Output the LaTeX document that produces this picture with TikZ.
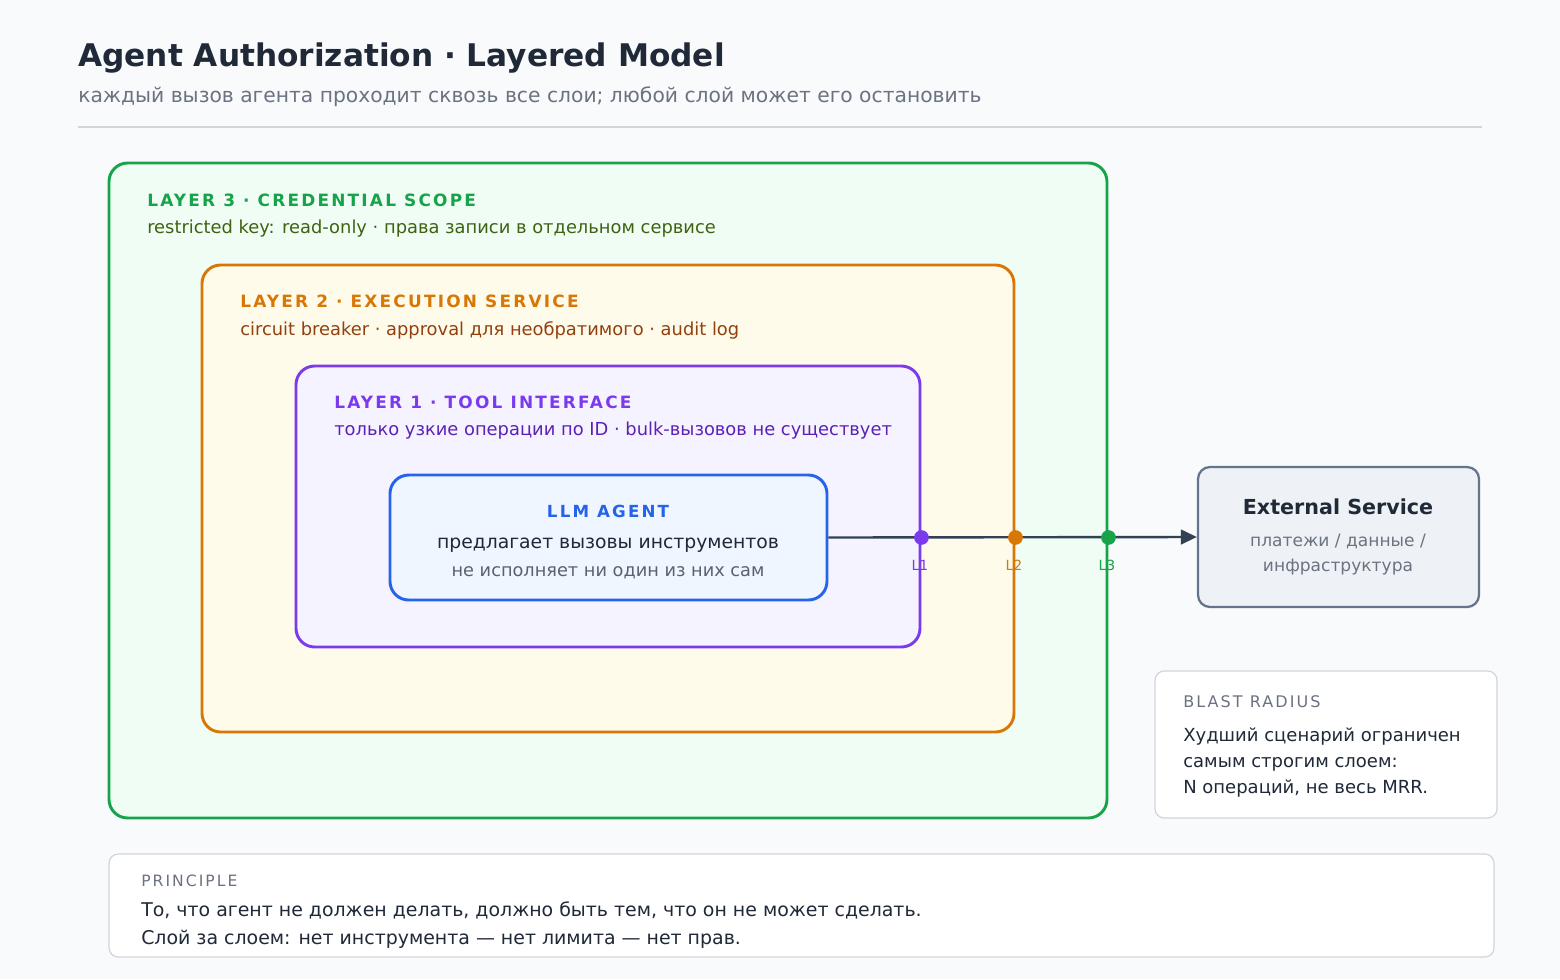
\documentclass[tikz,border=0pt]{standalone}
\usepackage{fontspec}
\setmainfont{DejaVu Sans}
\newfontfamily\capsfont[LetterSpace=13]{DejaVu Sans}
\usetikzlibrary{fit,arrows.meta}
\definecolor{bgpage}{HTML}{F8FAFC}
\definecolor{ink}{HTML}{1F2937}
\definecolor{muted}{HTML}{6B7280}
\definecolor{rule}{HTML}{D1D5DB}
\definecolor{greenL}{HTML}{16A34A}
\definecolor{greenF}{HTML}{F0FDF4}
\definecolor{greenT}{HTML}{3F6212}
\definecolor{orangeL}{HTML}{D97706}
\definecolor{orangeF}{HTML}{FFFBEB}
\definecolor{orangeT}{HTML}{92400E}
\definecolor{purpleL}{HTML}{7C3AED}
\definecolor{purpleF}{HTML}{F5F3FF}
\definecolor{purpleT}{HTML}{5B21B6}
\definecolor{blueL}{HTML}{2563EB}
\definecolor{blueF}{HTML}{EFF6FF}
\definecolor{slateL}{HTML}{64748B}
\definecolor{slateF}{HTML}{EEF2F7}
\definecolor{arrowc}{HTML}{334155}
\newcommand{\px}[1]{\fontsize{#1pt}{#1pt}\selectfont}
\begin{document}
\begin{tikzpicture}[x=0.75pt,y=-0.75pt,
  layer/.style={draw=#1L, fill=#1F, line width=2.2pt, rounded corners=14pt, inner sep=0pt},
  card/.style={draw=rule, fill=white, line width=0.9pt, rounded corners=7pt, inner sep=0pt},
  head/.style={anchor=west, text=#1L, font=\capsfont\bfseries\px{12.7}, inner sep=0pt},
  desc/.style={anchor=west, font=\px{13.4}, inner sep=0pt},
  dot/.style={circle, fill=#1L, minimum size=11pt, inner sep=0pt},
  tag/.style={text=#1L, font=\px{10.5}, inner sep=1pt}]
\useasboundingbox[fill=bgpage] (0,0) rectangle (1560,979);

% Title
\node[anchor=base west, text=ink, font=\bfseries\px{23.4}, inner sep=0pt] (title) at (78,66) {Agent Authorization · Layered Model};
\node[anchor=west, text=muted, font=\px{15.2}, inner sep=0pt] (subtitle) at (78,97) {каждый вызов агента проходит сквозь все слои; любой слой может его остановить};
\node[fit={(78,127) (1482,127)}, inner sep=0pt] (sep) {};
\draw[rule, line width=0.9pt] (sep.west) -- (sep.east);

% Layers
\node[layer=green, fit={(109,163) (1107,818)}] (l3) {};
\node[head=green] (l3head) at (147,200) {LAYER 3 · CREDENTIAL SCOPE};
\node[desc, text=greenT] (l3desc) at (147,229) {restricted key: read-only · права записи в отдельном сервисе};

\node[layer=orange, fit={(202,265) (1014,732)}] (l2) {};
\node[head=orange] (l2head) at (240,301) {LAYER 2 · EXECUTION SERVICE};
\node[desc, text=orangeT] (l2desc) at (240,330) {circuit breaker · approval для необратимого · audit log};

\node[layer=purple, fit={(296,366) (920,647)}] (l1) {};
\node[head=purple] (l1head) at (334,402) {LAYER 1 · TOOL INTERFACE};
\node[desc, text=purpleT] (l1desc) at (334,431) {только узкие операции по ID · bulk-вызовов не существует};

% Agent
\node[layer=blue, fit={(390,475) (827,600)}] (agent) {};
\node[text=blueL, font=\capsfont\bfseries\px{12.5}] (agenthead) at (608,511) {LLM AGENT};
\node[text=ink, font=\px{14.1}] (agentline1) at (608,545) {предлагает вызовы инструментов};
\node[text=muted!85!black, font=\px{13.3}] (agentline2) at (608,573) {не исполняет ни один из них сам};

% External service
\node[draw=slateL, fill=slateF, line width=1.7pt, rounded corners=9pt, inner sep=0pt, fit={(1198,467) (1479,607)}] (ext) {};
\node[text=ink, font=\bfseries\px{15.5}] (exthead) at (1338,507) {External Service};
\node[text=muted, font=\px{12.8}, align=center] (extdesc) at (1338,555) {платежи / данные /\\[6pt]инфраструктура};

% Call path through the layers
\draw[arrowc, line width=1.8pt, -{Triangle[length=12pt,width=11pt]}] (agent.east) -- (ext.west);
\node[dot=purple] (d1) at (l1.east |- agent.east) {};
\node[dot=orange] (d2) at (l2.east |- agent.east) {};
\node[dot=green] (d3) at (l3.east |- agent.east) {};
\node[tag=purple] (t1) at (920,565) {L1};
\node[tag=orange] (t2) at (1014,565) {L2};
\node[tag=green] (t3) at (1107,565) {L3};

% Blast radius
\node[card, fit={(1155,671) (1497,818)}] (blast) {};
\node[anchor=west, text=muted, font=\capsfont\px{12}, inner sep=0pt] (blasthead) at (1183,702) {BLAST RADIUS};
\node[anchor=north west, text=ink, font=\px{13.5}, align=left, inner sep=0pt] (blasttext) at (1183,728) {Худший сценарий ограничен\\[6pt]самым строгим слоем:\\[6pt]N операций, не весь MRR.};

% Principle
\node[card, fit={(109,854) (1494,957)}] (principle) {};
\node[anchor=west, text=muted, font=\capsfont\px{11.7}, inner sep=0pt] (princhead) at (141,881) {PRINCIPLE};
\node[anchor=north west, text=ink, font=\px{14.2}, align=left, inner sep=0pt] (princtext) at (141,902) {То, что агент не должен делать, должно быть тем, что он не может сделать.\\[6.8pt]Слой за слоем: нет инструмента — нет лимита — нет прав.};
\end{tikzpicture}
\end{document}
